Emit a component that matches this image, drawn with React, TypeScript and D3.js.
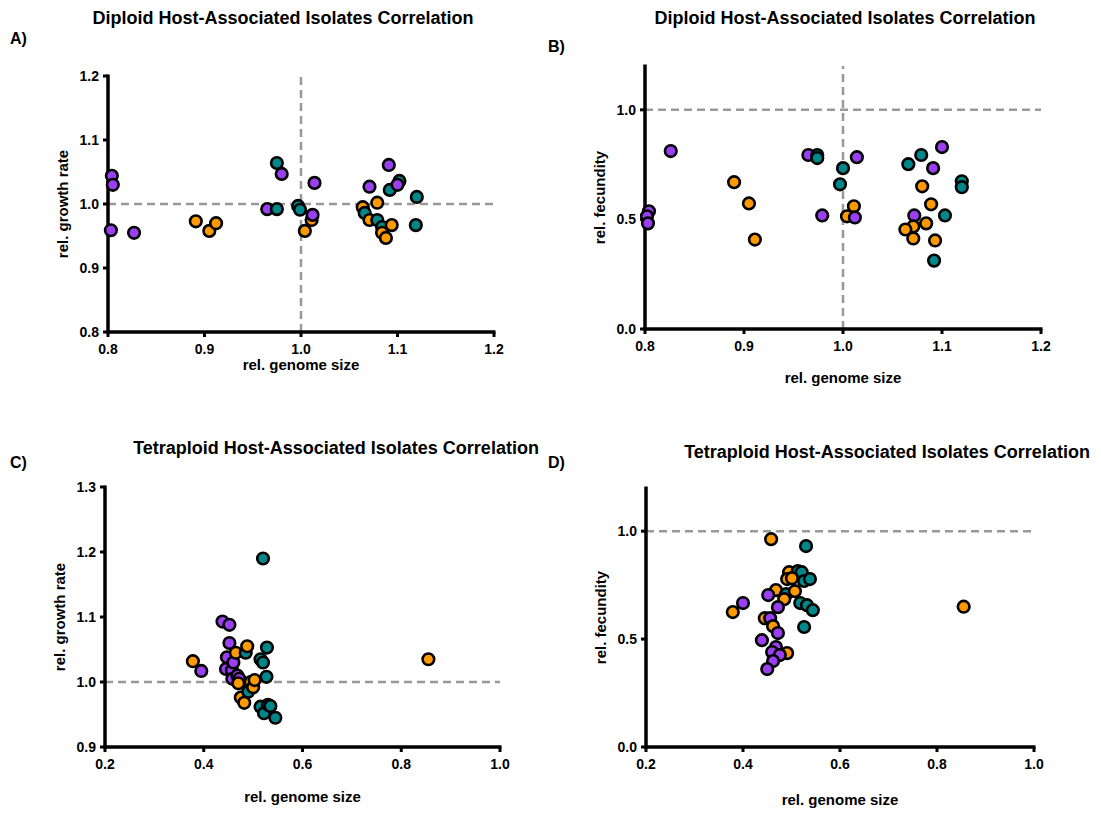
import React from 'react';
import * as d3 from 'd3';

// groups: p = purple, o = orange, t = teal
const diploidGrowth = [
  { x: 0.804, y: 1.044, g: 'p' }, { x: 0.805, y: 1.030, g: 'p' }, { x: 0.803, y: 0.959, g: 'p' },
  { x: 0.827, y: 0.955, g: 'p' }, { x: 0.891, y: 0.973, g: 'o' }, { x: 0.905, y: 0.958, g: 'o' },
  { x: 0.912, y: 0.970, g: 'o' }, { x: 0.975, y: 1.064, g: 't' }, { x: 0.980, y: 1.047, g: 'p' },
  { x: 0.965, y: 0.992, g: 'p' }, { x: 0.975, y: 0.992, g: 't' }, { x: 1.004, y: 0.958, g: 'o' },
  { x: 1.011, y: 0.975, g: 'o' }, { x: 0.997, y: 0.997, g: 't' }, { x: 0.999, y: 0.991, g: 't' },
  { x: 1.012, y: 0.983, g: 'p' }, { x: 1.014, y: 1.033, g: 'p' }, { x: 1.064, y: 0.995, g: 'o' },
  { x: 1.066, y: 0.986, g: 't' }, { x: 1.071, y: 0.975, g: 'o' }, { x: 1.079, y: 1.002, g: 'o' },
  { x: 1.079, y: 0.975, g: 't' }, { x: 1.084, y: 0.964, g: 't' }, { x: 1.084, y: 0.955, g: 'o' },
  { x: 1.094, y: 0.967, g: 'o' }, { x: 1.088, y: 0.947, g: 'o' }, { x: 1.071, y: 1.027, g: 'p' },
  { x: 1.092, y: 1.022, g: 't' }, { x: 1.102, y: 1.036, g: 't' }, { x: 1.100, y: 1.030, g: 'p' },
  { x: 1.091, y: 1.061, g: 'p' }, { x: 1.120, y: 1.011, g: 't' }, { x: 1.119, y: 0.967, g: 't' },
];

const diploidFecundity = [
  { x: 0.826, y: 0.812, g: 'p' }, { x: 0.804, y: 0.537, g: 'p' }, { x: 0.802, y: 0.514, g: 'p' },
  { x: 0.803, y: 0.482, g: 'p' }, { x: 0.890, y: 0.670, g: 'o' }, { x: 0.905, y: 0.573, g: 'o' },
  { x: 0.911, y: 0.408, g: 'o' }, { x: 0.965, y: 0.794, g: 'p' }, { x: 0.974, y: 0.794, g: 't' },
  { x: 0.974, y: 0.780, g: 't' }, { x: 1.014, y: 0.784, g: 'p' }, { x: 1.000, y: 0.734, g: 't' },
  { x: 0.997, y: 0.660, g: 't' }, { x: 1.011, y: 0.560, g: 'o' }, { x: 1.004, y: 0.514, g: 'o' },
  { x: 1.012, y: 0.509, g: 'p' }, { x: 0.979, y: 0.518, g: 'p' }, { x: 1.100, y: 0.830, g: 'p' },
  { x: 1.079, y: 0.794, g: 't' }, { x: 1.066, y: 0.752, g: 't' }, { x: 1.091, y: 0.734, g: 'p' },
  { x: 1.120, y: 0.674, g: 't' }, { x: 1.120, y: 0.647, g: 't' }, { x: 1.080, y: 0.651, g: 'o' },
  { x: 1.089, y: 0.569, g: 'o' }, { x: 1.103, y: 0.518, g: 't' }, { x: 1.072, y: 0.518, g: 'p' },
  { x: 1.084, y: 0.482, g: 'o' }, { x: 1.071, y: 0.468, g: 'o' }, { x: 1.063, y: 0.454, g: 'o' },
  { x: 1.071, y: 0.413, g: 'o' }, { x: 1.093, y: 0.404, g: 'o' }, { x: 1.092, y: 0.312, g: 't' },
];

const tetraploidGrowth = [
  { x: 0.378, y: 1.032, g: 'o' }, { x: 0.395, y: 1.017, g: 'p' }, { x: 0.438, y: 1.093, g: 'p' },
  { x: 0.452, y: 1.088, g: 'p' }, { x: 0.452, y: 1.060, g: 'p' }, { x: 0.447, y: 1.038, g: 'p' },
  { x: 0.445, y: 1.020, g: 'p' }, { x: 0.457, y: 1.018, g: 'p' }, { x: 0.460, y: 1.030, g: 'p' },
  { x: 0.465, y: 1.045, g: 'o' }, { x: 0.458, y: 1.005, g: 'p' }, { x: 0.468, y: 1.010, g: 'p' },
  { x: 0.472, y: 1.005, g: 'p' }, { x: 0.470, y: 0.998, g: 'o' }, { x: 0.475, y: 0.976, g: 'o' },
  { x: 0.482, y: 0.968, g: 'o' }, { x: 0.485, y: 1.045, g: 't' }, { x: 0.488, y: 1.055, g: 'o' },
  { x: 0.490, y: 0.985, g: 't' }, { x: 0.495, y: 1.000, g: 'o' }, { x: 0.500, y: 0.992, g: 'o' },
  { x: 0.503, y: 1.003, g: 'o' }, { x: 0.515, y: 1.035, g: 't' }, { x: 0.520, y: 1.030, g: 't' },
  { x: 0.528, y: 1.053, g: 't' }, { x: 0.527, y: 1.008, g: 't' }, { x: 0.515, y: 0.962, g: 't' },
  { x: 0.522, y: 0.952, g: 't' }, { x: 0.530, y: 0.965, g: 't' }, { x: 0.535, y: 0.963, g: 't' },
  { x: 0.545, y: 0.945, g: 't' }, { x: 0.520, y: 1.190, g: 't' }, { x: 0.855, y: 1.035, g: 'o' },
];

const tetraploidFecundity = [
  { x: 0.458, y: 0.963, g: 'o' }, { x: 0.530, y: 0.931, g: 't' }, { x: 0.495, y: 0.810, g: 'o' },
  { x: 0.513, y: 0.815, g: 't' }, { x: 0.521, y: 0.810, g: 't' }, { x: 0.491, y: 0.778, g: 'o' },
  { x: 0.526, y: 0.769, g: 't' }, { x: 0.538, y: 0.778, g: 't' }, { x: 0.501, y: 0.782, g: 'o' },
  { x: 0.468, y: 0.727, g: 'o' }, { x: 0.489, y: 0.708, g: 't' }, { x: 0.507, y: 0.722, g: 'o' },
  { x: 0.485, y: 0.685, g: 'o' }, { x: 0.452, y: 0.704, g: 'p' }, { x: 0.400, y: 0.667, g: 'p' },
  { x: 0.379, y: 0.625, g: 'o' }, { x: 0.518, y: 0.667, g: 't' }, { x: 0.532, y: 0.657, g: 't' },
  { x: 0.544, y: 0.634, g: 't' }, { x: 0.472, y: 0.648, g: 'p' }, { x: 0.445, y: 0.597, g: 'o' },
  { x: 0.456, y: 0.597, g: 'p' }, { x: 0.462, y: 0.560, g: 'o' }, { x: 0.472, y: 0.528, g: 'p' },
  { x: 0.526, y: 0.556, g: 't' }, { x: 0.439, y: 0.495, g: 'p' }, { x: 0.491, y: 0.435, g: 'o' },
  { x: 0.468, y: 0.463, g: 'p' }, { x: 0.460, y: 0.440, g: 'p' }, { x: 0.476, y: 0.426, g: 'p' },
  { x: 0.462, y: 0.398, g: 'p' }, { x: 0.450, y: 0.361, g: 'p' }, { x: 0.855, y: 0.650, g: 'o' },
];

const diploidTicksX = [0.8, 0.9, 1.0, 1.1, 1.2];
const tetraploidTicksX = [0.2, 0.4, 0.6, 0.8, 1.0];
const growthTicksA = [0.8, 0.9, 1.0, 1.1, 1.2];
const growthTicksC = [0.9, 1.0, 1.1, 1.2, 1.3];
const fecundityTicks = [0.0, 0.5, 1.0];

const colors = { p: '#9B3FF2', o: '#FF9900', t: '#00878A' };
const font = 'Arial, "Liberation Sans", sans-serif';
const fmt = d3.format('.1f');

const panels = [
  {
    letter: 'A)', letterPos: [10, 44], title: 'Diploid Host-Associated Isolates Correlation', titleX: 283, titleY: 24,
    ylabel: 'rel. growth rate', data: diploidGrowth,
    xDomain: [0.8, 1.2], xRange: [108, 494], yDomain: [0.8, 1.2], yRange: [332, 76],
    xTicks: diploidTicksX, yTicks: growthTicksA, vline: 1.0, hline: 1.0, xlabOff: 38,
  },
  {
    letter: 'B)', letterPos: [548, 52], title: 'Diploid Host-Associated Isolates Correlation', titleX: 845, titleY: 24,
    ylabel: 'rel. fecundity', data: diploidFecundity,
    xDomain: [0.8, 1.2], xRange: [645, 1041], yDomain: [0, 1.2], yRange: [329, 66],
    xTicks: diploidTicksX, yTicks: fecundityTicks, vline: 1.0, hline: 1.0, xlabOff: 54,
  },
  {
    letter: 'C)', letterPos: [10, 468], title: 'Tetraploid Host-Associated Isolates Correlation', titleX: 336, titleY: 454,
    ylabel: 'rel. growth rate', data: tetraploidGrowth,
    xDomain: [0.2, 1.0], xRange: [105, 500], yDomain: [0.9, 1.3], yRange: [747, 487],
    xTicks: tetraploidTicksX, yTicks: growthTicksC, vline: null, hline: 1.0, xlabOff: 55,
  },
  {
    letter: 'D)', letterPos: [548, 468], title: 'Tetraploid Host-Associated Isolates Correlation', titleX: 887, titleY: 458,
    ylabel: 'rel. fecundity', data: tetraploidFecundity,
    xDomain: [0.2, 1.0], xRange: [646, 1034], yDomain: [0, 1.2], yRange: [747, 488],
    xTicks: tetraploidTicksX, yTicks: fecundityTicks, vline: null, hline: 1.0, xlabOff: 58,
  },
];

function Panel({ p }: { p: any }) {
  const x = d3.scaleLinear().domain(p.xDomain).range(p.xRange);
  const y = d3.scaleLinear().domain(p.yDomain).range(p.yRange);
  const [x0, x1] = p.xRange;
  const [y0, y1] = p.yRange;
  return (
    <g fontFamily={font} fontWeight="bold">
      <text x={p.letterPos[0]} y={p.letterPos[1]} fontSize={16}>{p.letter}</text>
      <text x={p.titleX} y={p.titleY} fontSize={18} textAnchor="middle">{p.title}</text>

      {/* reference lines */}
      {p.hline !== null && (
        <line x1={x0} x2={x1} y1={y(p.hline)} y2={y(p.hline)} stroke="#999" strokeWidth={2.5} strokeDasharray="8,5" />
      )}
      {p.vline !== null && (
        <line x1={x(p.vline)} x2={x(p.vline)} y1={y0} y2={y1} stroke="#999" strokeWidth={2.5} strokeDasharray="8,5" />
      )}

      {/* axes */}
      <line x1={x0 - 1.5} x2={x1 + 1.5} y1={y0} y2={y0} stroke="#000" strokeWidth={3.5} />
      <line x1={x0} x2={x0} y1={y0 + 1.5} y2={y1 - 1.5} stroke="#000" strokeWidth={3.5} />
      {p.xTicks.map((t: number) => (
        <g key={'x' + t}>
          <line x1={x(t)} x2={x(t)} y1={y0} y2={y0 + 5} stroke="#000" strokeWidth={3} />
          <text x={x(t)} y={y0 + 22} fontSize={14} textAnchor="middle">{fmt(t)}</text>
        </g>
      ))}
      {p.yTicks.map((t: number) => (
        <g key={'y' + t}>
          <line x1={x0 - 5} x2={x0} y1={y(t)} y2={y(t)} stroke="#000" strokeWidth={3} />
          <text x={x0 - 9} y={y(t) + 5} fontSize={14} textAnchor="end">{fmt(t)}</text>
        </g>
      ))}
      <text x={(x0 + x1) / 2} y={y0 + p.xlabOff} fontSize={15} textAnchor="middle">rel. genome size</text>
      <text transform={`translate(${x0 - 40},${(y0 + y1) / 2}) rotate(-90)`} fontSize={15} textAnchor="middle">{p.ylabel}</text>

      {/* points */}
      {p.data.map((d: any, i: number) => (
        <circle key={i} cx={x(d.x)} cy={y(d.y)} r={5.8} fill={colors[d.g as 'p' | 'o' | 't']} stroke="#000" strokeWidth={2.6} />
      ))}
    </g>
  );
}

export default function App() {
  return (
    <svg width={1101} height={814} style={{ position: 'absolute', left: 0, top: 0, background: '#fff' }}>
      {panels.map((p, i) => <Panel key={i} p={p} />)}
    </svg>
  );
}
